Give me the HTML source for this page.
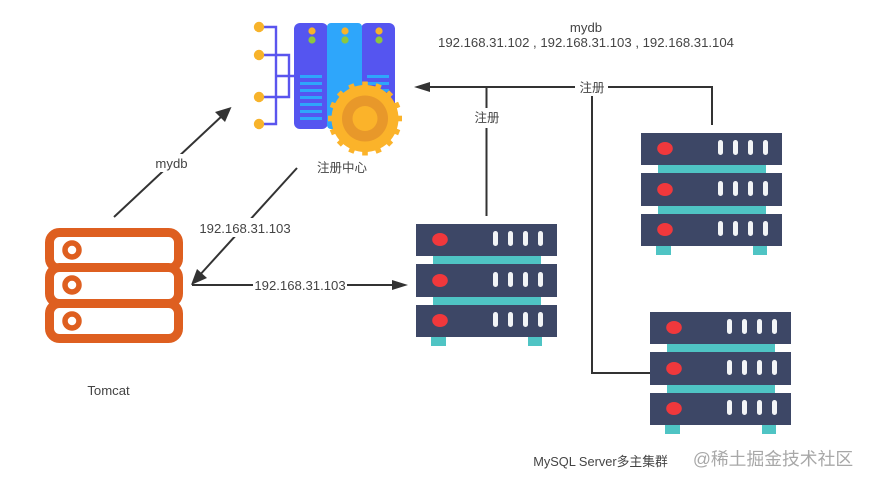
<!DOCTYPE html>
<html>
<head>
<meta charset="utf-8">
<style>
html,body{margin:0;padding:0;background:#fff;}
#c{position:relative;width:870px;height:486px;overflow:hidden;background:#fff;}
svg{position:absolute;left:0;top:0;filter:blur(0.35px);}
text{font-family:"Liberation Sans","Noto Sans CJK SC",sans-serif;font-size:13.15px;fill:#444;text-anchor:middle;}
text.cn{font-size:12.5px;}
</style>
</head>
<body>
<div id="c">
<svg width="870" height="486" viewBox="0 0 870 486" xmlns="http://www.w3.org/2000/svg">
<defs>
<g id="srv">
  <rect x="17" y="32" width="108" height="8" fill="#4fc4c4"/>
  <rect x="17" y="72" width="108" height="9" fill="#4fc4c4"/>
  <rect x="15" y="113" width="15" height="9" fill="#4fc4c4"/>
  <rect x="112" y="113" width="14" height="9" fill="#4fc4c4"/>
  <rect x="0" y="0" width="141" height="32" fill="#3d4766"/>
  <rect x="0" y="40" width="141" height="33" fill="#3d4766"/>
  <rect x="0" y="81" width="141" height="32" fill="#3d4766"/>
  <ellipse cx="24" cy="15.5" rx="7.8" ry="6.5" fill="#f0383c"/>
  <ellipse cx="24" cy="56.5" rx="7.8" ry="6.5" fill="#f0383c"/>
  <ellipse cx="24" cy="96.5" rx="7.8" ry="6.5" fill="#f0383c"/>
  <g fill="#f2f4f6">
    <rect x="77" y="7" width="5" height="15" rx="2.5"/><rect x="92" y="7" width="5" height="15" rx="2.5"/><rect x="107" y="7" width="5" height="15" rx="2.5"/><rect x="122" y="7" width="5" height="15" rx="2.5"/>
    <rect x="77" y="48" width="5" height="15" rx="2.5"/><rect x="92" y="48" width="5" height="15" rx="2.5"/><rect x="107" y="48" width="5" height="15" rx="2.5"/><rect x="122" y="48" width="5" height="15" rx="2.5"/>
    <rect x="77" y="88" width="5" height="15" rx="2.5"/><rect x="92" y="88" width="5" height="15" rx="2.5"/><rect x="107" y="88" width="5" height="15" rx="2.5"/><rect x="122" y="88" width="5" height="15" rx="2.5"/>
  </g>
</g>
<g id="lines" fill="#2ea6fb">
  <rect x="0" y="75" width="22" height="3"/><rect x="0" y="82" width="22" height="3"/><rect x="0" y="89" width="22" height="3"/><rect x="0" y="96" width="22" height="3"/><rect x="0" y="103" width="22" height="3"/><rect x="0" y="110" width="22" height="3"/><rect x="0" y="117" width="22" height="3"/>
</g>
<g id="dots"><circle cx="0" cy="31" r="3.6" fill="#f7b32b"/><circle cx="0" cy="40" r="3.6" fill="#8cc63f"/></g>
</defs>

<!-- registry icon -->
<g>
  <g fill="none" stroke="#5a55ee" stroke-width="2.4">
    <path d="M259 27H276V124H259"/>
    <path d="M259 55H289V97H259"/>
    <path d="M276 76H295"/>
  </g>
  <circle cx="259" cy="27" r="5.2" fill="#f7b32b"/>
  <circle cx="259" cy="55" r="5.2" fill="#f7b32b"/>
  <circle cx="259" cy="97" r="5.2" fill="#f7b32b"/>
  <circle cx="259" cy="124" r="5.2" fill="#f7b32b"/>
  <rect x="294" y="23" width="34" height="106" rx="6" fill="#5555f0"/>
  <rect x="361" y="23" width="34" height="106" rx="6" fill="#5555f0"/>
  <rect x="327" y="23" width="35" height="106" rx="4" fill="#2ea6fb"/>
  <use href="#dots" x="312"/><use href="#dots" x="345"/><use href="#dots" x="379"/>
  <use href="#lines" x="300"/><use href="#lines" x="333"/>
  <use href="#lines" x="367"/>
  <g transform="translate(365 118.5)">
    <circle r="33.5" fill="#fbb32a"/>
    <g fill="#fbb32a">
      <rect x="-2.8" y="-37" width="5.6" height="74"/>
      <rect x="-2.8" y="-37" width="5.6" height="74" transform="rotate(22.5)"/>
      <rect x="-2.8" y="-37" width="5.6" height="74" transform="rotate(45)"/>
      <rect x="-2.8" y="-37" width="5.6" height="74" transform="rotate(67.5)"/>
      <rect x="-2.8" y="-37" width="5.6" height="74" transform="rotate(90)"/>
      <rect x="-2.8" y="-37" width="5.6" height="74" transform="rotate(112.5)"/>
      <rect x="-2.8" y="-37" width="5.6" height="74" transform="rotate(135)"/>
      <rect x="-2.8" y="-37" width="5.6" height="74" transform="rotate(157.5)"/>
    </g>
    <circle r="23" fill="#e8982a"/>
    <circle r="12.5" fill="#fbb32a"/>
  </g>
</g>

<!-- tomcat icon -->
<g>
  <rect x="49.5" y="232.5" width="129" height="36" rx="10" fill="#fff" stroke="#de5f20" stroke-width="9"/>
  <rect x="49.5" y="267.5" width="129" height="36" rx="10" fill="#fff" stroke="#de5f20" stroke-width="9"/>
  <rect x="49.5" y="303.5" width="129" height="35" rx="10" fill="#fff" stroke="#de5f20" stroke-width="9"/>
  <circle cx="72" cy="250" r="7" fill="#fff" stroke="#de5f20" stroke-width="5.5"/>
  <circle cx="72" cy="285" r="7" fill="#fff" stroke="#de5f20" stroke-width="5.5"/>
  <circle cx="72" cy="321" r="7" fill="#fff" stroke="#de5f20" stroke-width="5.5"/>
</g>

<!-- servers -->
<g>
  <use href="#srv" x="416" y="224"/>
  <use href="#srv" x="641" y="133"/>
  <use href="#srv" x="650" y="312"/>
</g>

<!-- connectors -->
<g fill="none" stroke="#333" stroke-width="2">
  <path d="M114 217L223 115"/>
  <path d="M297 168L198 277"/>
  <path d="M192 285H396"/>
  <path d="M712 125V87H428"/>
  <path d="M486.5 216V87"/>
  <path d="M592 87V373H650"/>
</g>
<g fill="#333">
  <polygon points="231.5,107 225,122 215,112"/>
  <polygon points="191,285 197,269 207,278"/>
  <polygon points="408,285 392,280 392,290"/>
  <polygon points="414,87 430,82 430,92"/>
</g>

<!-- labels -->
<rect x="152" y="154" width="38" height="18" fill="#fff"/>
<text x="171.5" y="168">mydb</text>
<rect x="199" y="218" width="92" height="19" fill="#fff"/>
<text x="245" y="233">192.168.31.103</text>
<rect x="253" y="276" width="94" height="18" fill="#fff"/>
<text x="300" y="290">192.168.31.103</text>
<text class="cn" x="342" y="172">注册中心</text>
<text x="108.5" y="395">Tomcat</text>
<text x="586" y="32">mydb</text>
<text x="586" y="47">192.168.31.102 , 192.168.31.103 , 192.168.31.104</text>
<rect x="575" y="78" width="33" height="18" fill="#fff"/>
<text class="cn" x="592" y="92">注册</text>
<rect x="472" y="108" width="30" height="20" fill="#fff"/>
<text class="cn" x="487" y="122">注册</text>
<text x="600.5" y="466" style="font-size:12.8px">MySQL Server多主集群</text>
<text x="773" y="465" style="font-size:17.8px;fill:#a8a8a8;">@稀土掘金技术社区</text>
</svg>
</div>
</body>
</html>
